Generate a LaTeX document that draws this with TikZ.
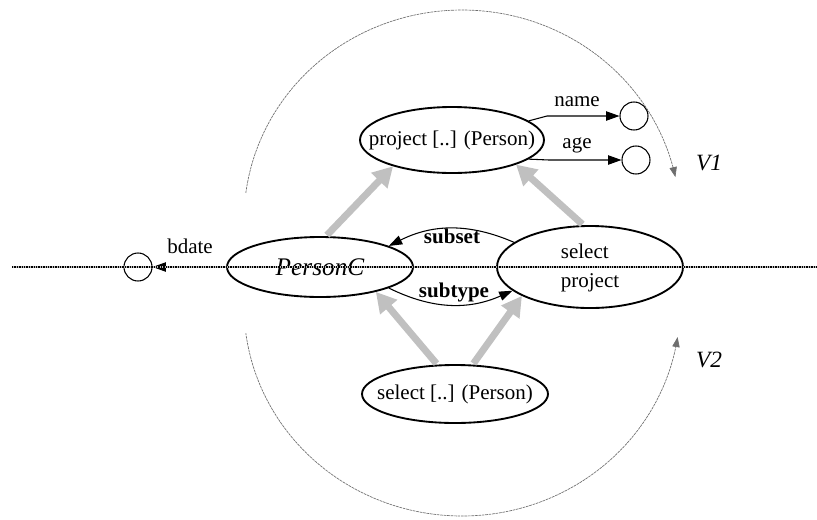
\documentclass[tikz,border=0pt]{standalone}
\usepackage{fontspec}
\setmainfont{Liberation Serif}
\usetikzlibrary{arrows.meta,shapes.geometric}
\definecolor{flowgray}{RGB}{192,192,192}
\definecolor{viewgray}{RGB}{110,110,110}
\tikzset{
  viewtip/.tip={Triangle[length=7.5pt,width=5.5pt]},
  conntip/.tip={Triangle[length=10pt,width=7pt]},
  flowtip/.tip={Triangle[length=15pt,width=16pt]}
}
\begin{document}
\begin{tikzpicture}[x=0.75pt,y=-0.75pt,
  every node/.style={font=\fontsize{15.75}{18}\selectfont, inner sep=0pt},
  op/.style={ellipse, draw, line width=1.4pt},
  val/.style={circle, draw, line width=0.8pt, minimum size=21pt},
  conn/.style={line width=0.8pt, -conntip},
  derive/.style={flowgray, line width=5.2pt, -flowtip, shorten <=1pt},
  view/.style={viewgray, line width=0.5pt, dash pattern=on 2pt off 0.6pt},
  lbl/.style={font=\fontsize{15.75}{18}\selectfont},
  blbl/.style={font=\fontsize{15.75}{18}\selectfont\bfseries},
  vlbl/.style={font=\fontsize{17.5}{20}\selectfont\itshape}
]
\useasboundingbox (0,0) rectangle (817,519);

% operator ellipses
\node[op, minimum width=139.5pt, minimum height=45pt] (PC) at (320,267)
  {\makebox[0pt]{\fontsize{19}{22}\selectfont\itshape PersonC}};
\node[op, minimum width=139.5pt, minimum height=45pt] (SP) at (590,267)
  {\makebox[0pt]{\fontsize{15.75}{21.75}\selectfont\begin{tabular}{@{}l@{}}select\\project\end{tabular}}};
\node[op, minimum width=138pt, minimum height=49.5pt] (PJ) at (452,140)
  {\makebox[0pt]{project [..] (Person)}};
\node[op, minimum width=139.5pt, minimum height=43.5pt] (SL) at (455,394)
  {\makebox[0pt]{select [..] (Person)}};

% attribute values
\node[val] (N) at (634,116) {};
\node[val] (A) at (636,160) {};
\node[val] (B) at (138,267) {};

% derivation arrows
\draw[derive] (PC.79) -- (PJ.204);
\draw[derive] (SP.99) -- (PJ.339);
\draw[derive] (SL.121) -- (PC.336);
\draw[derive] (SL.59) -- (SP.203);

% attribute connectors
\coordinate (nbend) at (547,116);
\coordinate (abend) at (549,160);
\draw[conn] (PJ.14) -- (nbend) -- (N);
\draw[conn] (PJ.-14) -- (abend) -- (A);
\draw[conn] (PC.west) -- (B);
\node[lbl] at (577,102) {name};
\node[lbl] at (577,145) {age};
\node[lbl] at (190,246) {bdate};

% subset / subtype relations
\draw[conn] (SP.162) to[bend right=25] (PC.17);
\draw[conn] (PC.343) to[bend right=25] (SP.197);
\node[blbl] at (452,236) {subset};
\node[blbl] at (454,292) {subtype};

% view arcs
\draw[view, -viewtip] plot[domain=187.4:348.2, samples=150]
  ({462+218*cos(\x)}, {220+210*sin(\x)});
\draw[view, viewtip-] plot[domain=8.5:172.6, samples=150]
  ({462+218*cos(\x)}, {306+210*sin(\x)});
\node[vlbl] at (709,163) {V1};
\node[vlbl] at (709,360) {V2};

% horizontal axis line
\coordinate (axisL) at (12,267);
\coordinate (axisR) at (817,267);
\draw[gray!55, line width=1.3pt] (axisL) -- (axisR);
\draw[black, line width=0.9pt, dash pattern=on 1pt off 0.8pt] (axisL) -- (axisR);
\end{tikzpicture}
\end{document}
